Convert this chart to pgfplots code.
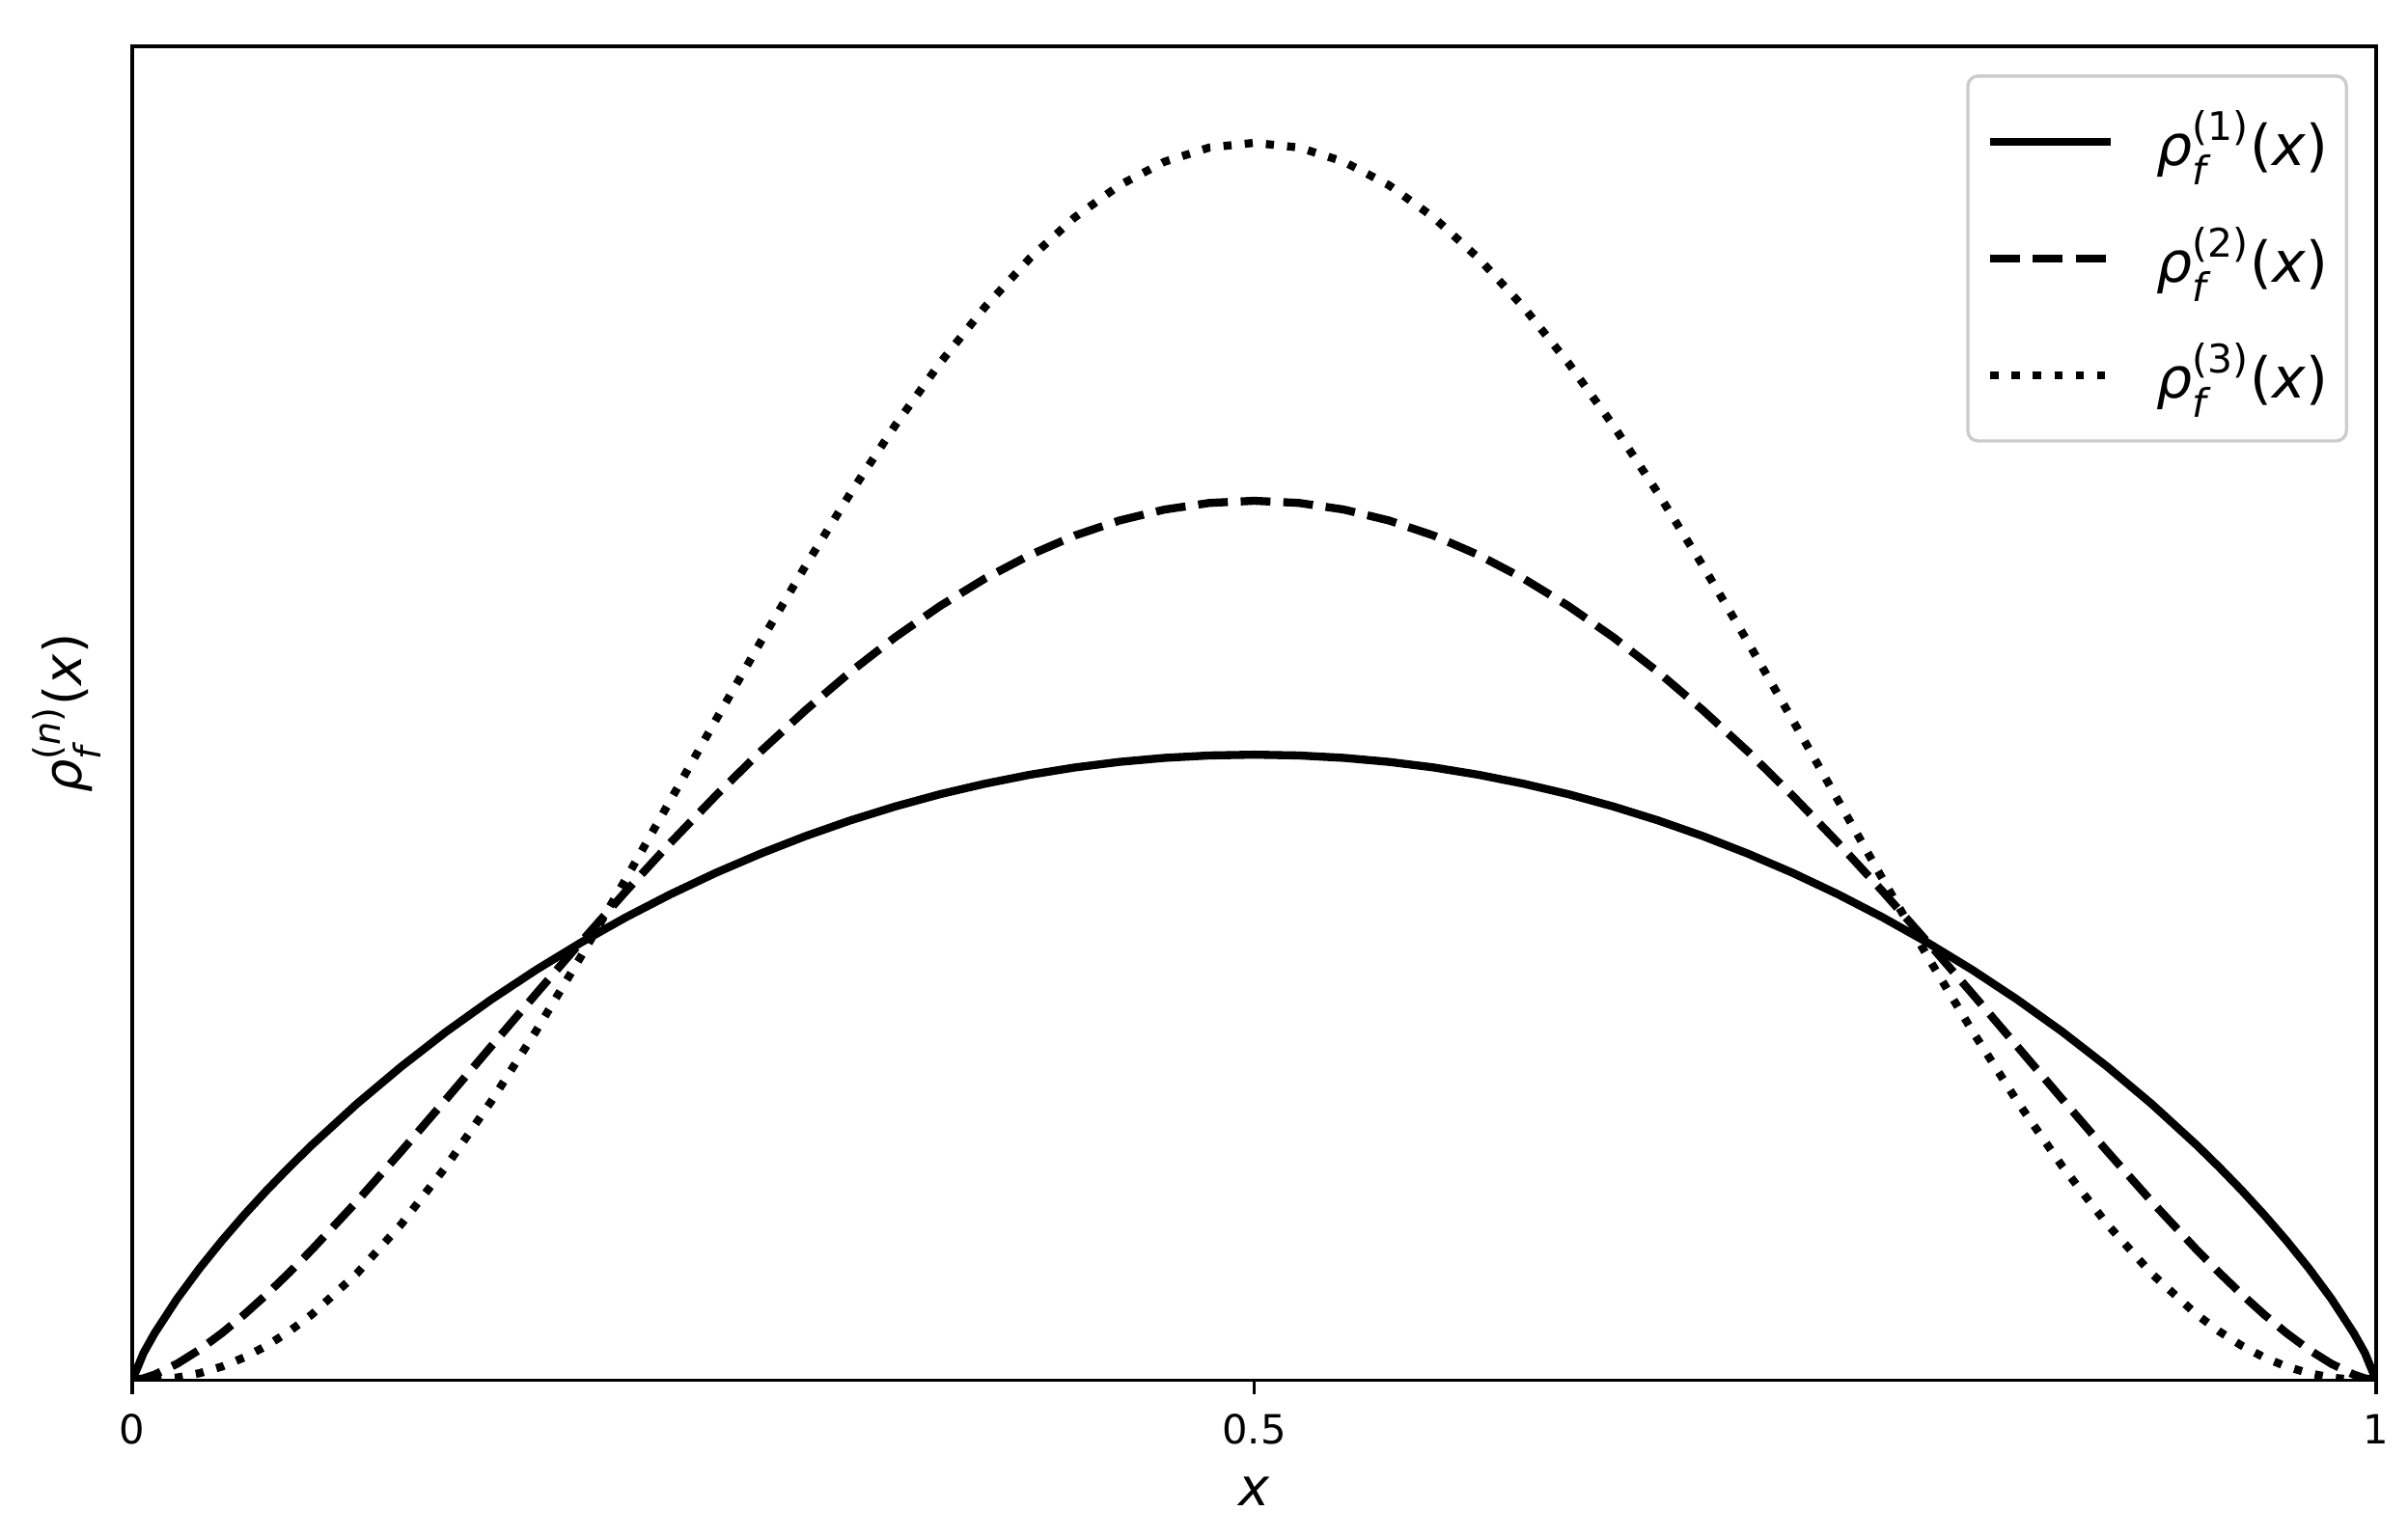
\documentclass[border=0pt]{standalone}
\usepackage{amsmath}
\usepackage{fontspec}
\setmainfont{DejaVu Sans}
\usepackage{pgfplots}
\usepackage{pgfplotstable}
\pgfplotsset{compat=1.18}

\pgfplotstableread{
x a b c
0 0 0 0
0.005 0.0612 0.0044 0.0002
0.01 0.1062 0.0129 0.0012
0.02 0.1836 0.0373 0.0062
0.03 0.2519 0.0690 0.0160
0.04 0.3143 0.1064 0.0310
0.05 0.3727 0.1483 0.0517
0.06 0.4276 0.1938 0.0781
0.07 0.4795 0.2425 0.1102
0.08 0.5290 0.2936 0.1479
0.10 0.6213 0.4018 0.2397
0.12 0.7060 0.5157 0.3518
0.14 0.7843 0.6328 0.4820
0.16 0.8564 0.7513 0.6276
0.18 0.9231 0.8695 0.7859
0.20 0.9846 0.9860 0.9535
0.22 1.0413 1.0998 1.1279
0.24 1.0934 1.2097 1.3061
0.26 1.1411 1.3146 1.4845
0.28 1.1844 1.4141 1.6603
0.30 1.2238 1.5068 1.8315
0.32 1.2591 1.5929 1.9946
0.34 1.2905 1.6712 2.1476
0.36 1.3181 1.7414 2.2879
0.38 1.3417 1.8031 2.4137
0.40 1.3618 1.8560 2.5233
0.42 1.3782 1.8997 2.6152
0.44 1.3908 1.9337 2.6878
0.46 1.3998 1.9582 2.7404
0.48 1.4052 1.9731 2.7724
0.50 1.4070 1.9780 2.7830
0.52 1.4052 1.9731 2.7724
0.54 1.3998 1.9582 2.7404
0.56 1.3908 1.9337 2.6878
0.58 1.3782 1.8997 2.6152
0.60 1.3618 1.8560 2.5233
0.62 1.3417 1.8031 2.4137
0.64 1.3181 1.7414 2.2879
0.66 1.2905 1.6712 2.1476
0.68 1.2591 1.5929 1.9946
0.70 1.2238 1.5068 1.8315
0.72 1.1844 1.4141 1.6603
0.74 1.1411 1.3146 1.4845
0.76 1.0934 1.2097 1.3061
0.78 1.0413 1.0998 1.1279
0.80 0.9846 0.9860 0.9535
0.82 0.9231 0.8695 0.7859
0.84 0.8564 0.7513 0.6276
0.86 0.7843 0.6328 0.4820
0.88 0.7060 0.5157 0.3518
0.90 0.6213 0.4018 0.2397
0.92 0.5290 0.2936 0.1479
0.93 0.4795 0.2425 0.1102
0.94 0.4276 0.1938 0.0781
0.95 0.3727 0.1483 0.0517
0.96 0.3143 0.1064 0.0310
0.97 0.2519 0.0690 0.0160
0.98 0.1836 0.0373 0.0062
0.99 0.1062 0.0129 0.0012
0.995 0.0612 0.0044 0.0002
1 0 0 0
}\datatable

\newcommand{\rf}[1]{\textit{ρ}$_{\textit{f}}^{\textrm{(#1)}}$(\textit{x})}

\begin{document}
\begin{tikzpicture}
\path[use as bounding box] (-32.88pt,-39.12pt) rectangle (565.68pt,343.2pt);
\begin{axis}[
  at={(0pt,0pt)}, anchor=south west,
  scale only axis, width=557.76pt, height=331.68pt,
  xmin=0, xmax=1, ymin=0, ymax=3,
  axis line style={line width=0.8pt},
  xtick={0,0.5,1}, xticklabels={0,0.5,1},
  ytick=\empty,
  tick align=outside, xtick pos=left,
  major tick length=3.5pt,
  every tick/.style={line width=0.8pt, black},
  tick label style={font=\fontsize{10}{12}\selectfont},
  xticklabel style={yshift=-1.4pt},
  xlabel={\textit{x}},
  xlabel style={at={(axis description cs:0.5,0)}, anchor=base, yshift=-31.2pt, font=\fontsize{13}{15}\selectfont},
  ylabel={\rf{\textit{n}}},
  ylabel style={at={(axis description cs:-0.0292,0.5)}, anchor=center, font=\fontsize{13}{15}\selectfont},
  legend style={at={(axis description cs:1,1)}, anchor=north east, xshift=-7pt, yshift=-7pt,
    draw=black!20, line width=0.8pt, rounded corners=2.5pt, fill=white,
    font=\fontsize{14}{17}\selectfont,
    inner xsep=4.6pt, inner ysep=7.85pt, row sep=12pt, column sep=10.3pt,
    nodes={inner sep=0pt, text height=14.3pt, text depth=2.7pt, anchor=west},
    cells={anchor=west}},
  legend image code/.code={\draw[#1] (0pt,0pt) -- (30pt,0pt);},
  legend cell align=left,
]
\addplot[black, line width=2pt] table[x=x,y=a] {\datatable};
\addlegendentry{\rf{1}}
\addplot[black, line width=2pt, dash pattern=on 7.4pt off 3.2pt] table[x=x,y=b] {\datatable};
\addlegendentry{\rf{2}}
\addplot[black, line width=2pt, dash pattern=on 2pt off 3.3pt] table[x=x,y=c] {\datatable};
\addlegendentry{\rf{3}}
\end{axis}
\end{tikzpicture}
\end{document}
